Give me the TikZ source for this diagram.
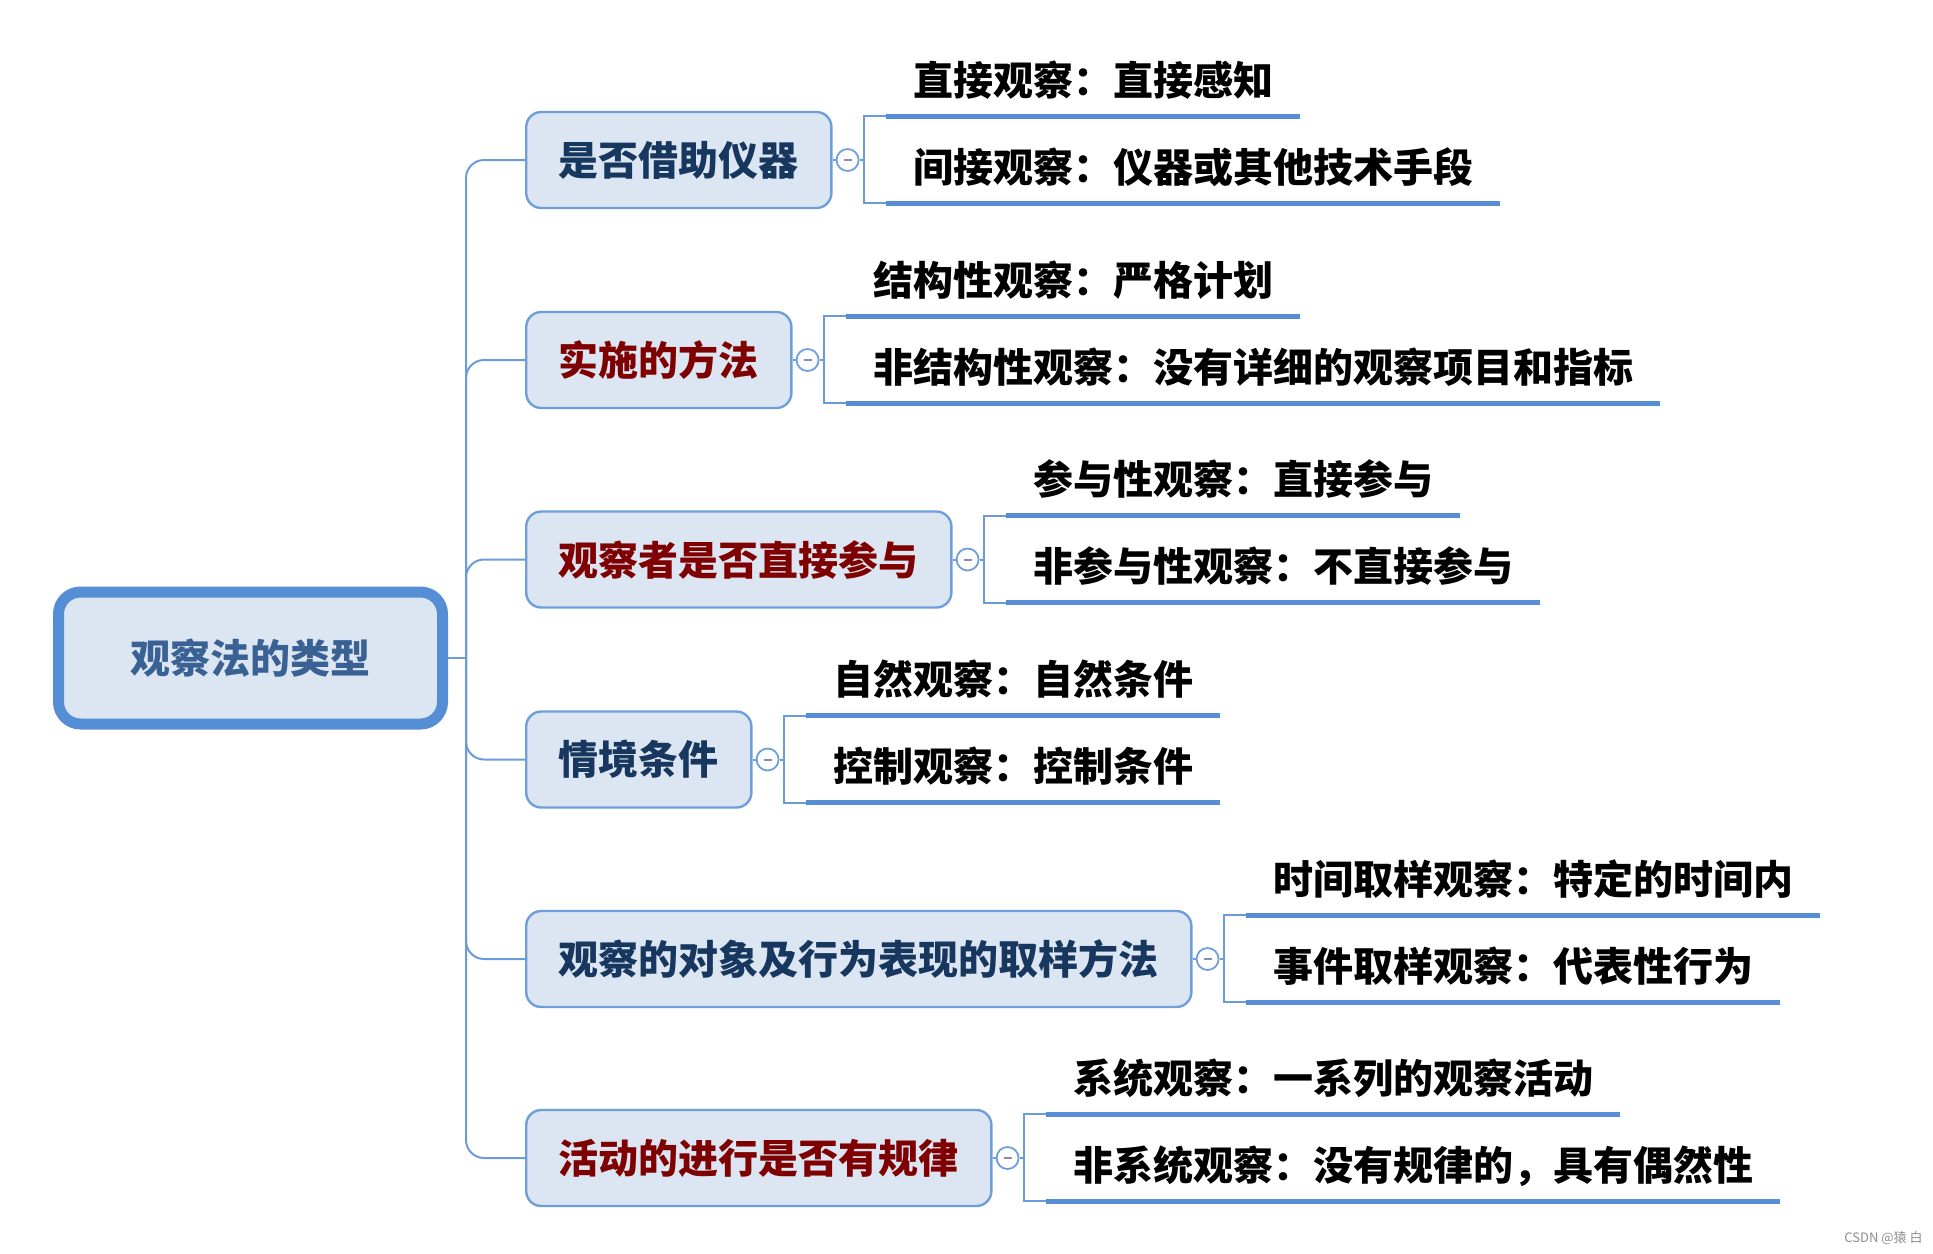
\documentclass[tikz,border=0pt]{standalone}
\usepackage{fontspec}
\setmainfont{Noto Sans CJK SC}
\usetikzlibrary{calc}
\definecolor{boxfill}{HTML}{DCE6F2}
\definecolor{rootline}{HTML}{558ED5}
\definecolor{boxline}{HTML}{6E9FDA}
\definecolor{connline}{HTML}{6A9CDB}
\definecolor{ulcolor}{HTML}{558ED5}
\definecolor{roottext}{HTML}{3A6194}
\definecolor{navytext}{HTML}{17375E}
\definecolor{redtext}{HTML}{7F0000}
\definecolor{minuscol}{HTML}{8C8CB0}
\begin{document}
\begin{tikzpicture}[x=0.5pt,y=-0.5pt,
  bigfont/.style={font=\fontsize{20pt}{24pt}\selectfont\bfseries},
  rootbox/.style={bigfont, draw=rootline, line width=5.5pt, fill=boxfill,
    rounded corners=11pt, minimum width=192pt, minimum height=66pt, inner sep=0pt, text=roottext},
  branchbox/.style={bigfont, draw=boxline, line width=1.2pt, fill=boxfill,
    rounded corners=7.5pt, minimum height=48pt, inner xsep=16.3pt, inner ysep=0pt, anchor=west},
  knob/.style={circle, draw=boxline, line width=0.9pt, fill=white, minimum size=11pt, inner sep=0pt},
  leaf/.style={bigfont, text=black, inner xsep=13.5pt, inner ysep=0pt, text depth=10.5pt, anchor=base west},
  conn/.style={draw=connline, line width=1pt},
  uline/.style={draw=ulcolor, line width=2.5pt},
  minus/.style={draw=minuscol, line width=1pt}
]
\useasboundingbox (0,0) rectangle (1933,1253);
\node[rootbox] (root) at (250.5,658) {观察法的类型};
\coordinate (trunk) at (466,658);
\draw[conn] (root.east) -- (trunk);
\foreach \i/\cy/\col/\btxt/\ta/\tb in {
  1/160/navytext/是否借助仪器/直接观察：直接感知/间接观察：仪器或其他技术手段,
  2/360/redtext/实施的方法/结构性观察：严格计划/非结构性观察：没有详细的观察项目和指标,
  3/559.5/redtext/观察者是否直接参与/参与性观察：直接参与/非参与性观察：不直接参与,
  4/759.5/navytext/情境条件/自然观察：自然条件/控制观察：控制条件,
  5/959/navytext/观察的对象及行为表现的取样方法/时间取样观察：特定的时间内/事件取样观察：代表性行为,
  6/1158/redtext/活动的进行是否有规律/系统观察：一系列的观察活动/非系统观察：没有规律的，具有偶然性}
{
  \node[branchbox, text=\col] (b\i) at (525,\cy) {\btxt};
  \draw[conn, rounded corners=9pt] (trunk) |- (b\i.west);
  \node[knob] (k\i) at ($(b\i.east)+(15,0)$) {};
  \draw[minus] ($(k\i.center)+(-4,0)$) -- ($(k\i.center)+(4,0)$);
  \draw[conn] (b\i.east) -- (k\i.west);
  \node[leaf] (t\i) at ($(b\i.east)+(53,-65)$) {\ta};
  \node[leaf] (u\i) at ($(b\i.east)+(53,22)$) {\tb};
  \draw[conn] (k\i.east) -- ++(5,0);
  \draw[conn] (t\i.south west) -- ++(-22,0) |- (u\i.south west);
  \draw[uline] (t\i.south west) -- (t\i.south east);
  \draw[uline] (u\i.south west) -- (u\i.south east);
}
\node[font=\fontsize{6.5pt}{8pt}\selectfont, text=black!45, anchor=east, inner sep=0pt] (wm) at (1923,1238) {CSDN @猿 白};
\end{tikzpicture}
\end{document}
